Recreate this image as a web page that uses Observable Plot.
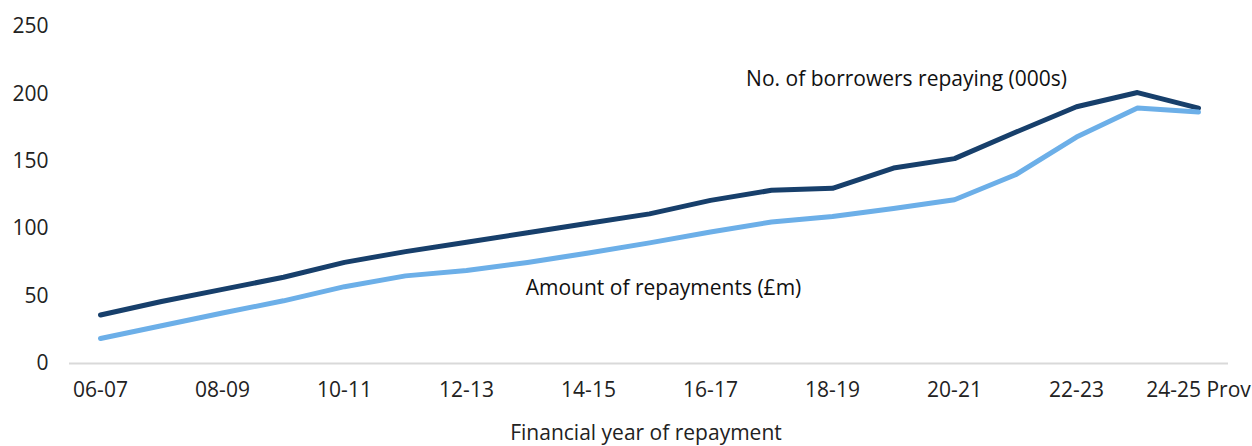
<!DOCTYPE html>
<html>
<head>
<meta charset="utf-8">
<script src="https://cdn.jsdelivr.net/npm/d3@7"></script>
<script src="https://cdn.jsdelivr.net/npm/@observablehq/plot@0.6"></script>
<style>
  html, body { margin: 0; padding: 0; background: #fff; }
  #chart svg { display: block; }
</style>
</head>
<body>
<div id="chart"></div>
<script>
const years = ["06-07","07-08","08-09","09-10","10-11","11-12","12-13","13-14","14-15","15-16","16-17","17-18","18-19","19-20","20-21","21-22","22-23","23-24","24-25 Prov"];
const borrowers = [36, 46, 55, 64, 75, 83, 90, 97, 104, 111, 121, 128.5, 130, 145, 152, 171.5, 190.5, 201, 189.5];
const amount = [18.5, 28, 37.5, 46.5, 57, 65, 69, 75, 82, 89.5, 97.5, 105, 109, 115, 121.5, 140, 168, 189.5, 186.5];
const yTicks = [0, 50, 100, 150, 200, 250];
const xTickLabels = years.filter((d, i) => i % 2 === 0);
const labels = [
  {name: "No. of borrowers repaying (000s)", x: "19-20", y: 211, dx: 13},
  {name: "Amount of repayments (£m)", x: "15-16", y: 55.5, dx: 14}
];
const seriesNames = ["borrowers", "amount"];
const colors = ["#173f6b", "#6cafe8"];

const rows = [];
years.forEach((yr, i) => {
  rows.push({year: yr, value: borrowers[i], series: seriesNames[0]});
  rows.push({year: yr, value: amount[i], series: seriesNames[1]});
});

const font = "'Open Sans', sans-serif";
const fs = 21;

const chart = Plot.plot({
  width: 1252,
  height: 446,
  marginLeft: 69,
  marginRight: 24,
  marginTop: 26,
  marginBottom: 83,
  style: {fontFamily: font, fontSize: fs + "px", color: "#222", background: "#fff"},
  x: {type: "point", domain: years, padding: 0.5, label: null},
  y: {domain: [0, 250], label: null},
  color: {domain: seriesNames, range: colors},
  marks: [
    Plot.ruleY([0], {stroke: "#d9d9d9", strokeWidth: 2}),
    Plot.axisY({ticks: yTicks, tickSize: 0, tickPadding: 21, fontSize: fs, fill: "#222"}),
    Plot.axisX({ticks: xTickLabels, tickSize: 0, tickPadding: 19, fontSize: fs, fill: "#222", label: null}),
    Plot.line(rows, {x: "year", y: "value", z: "series", stroke: "series", strokeWidth: 5, strokeLinecap: "round", strokeLinejoin: "round"}),
    ...labels.map(l => Plot.text([l], {x: "x", y: "y", dx: l.dx, text: "name", fontSize: fs, fill: "#111", textAnchor: "middle"}))
  ]
});

const svg = d3.select(chart);
svg.append("text")
  .attr("x", 646)
  .attr("y", 434)
  .attr("text-anchor", "middle")
  .attr("dominant-baseline", "middle")
  .style("font-family", font)
  .style("font-size", fs + "px")
  .attr("fill", "#222")
  .text("Financial year of repayment");

document.getElementById("chart").appendChild(chart);
</script>
</body>
</html>
